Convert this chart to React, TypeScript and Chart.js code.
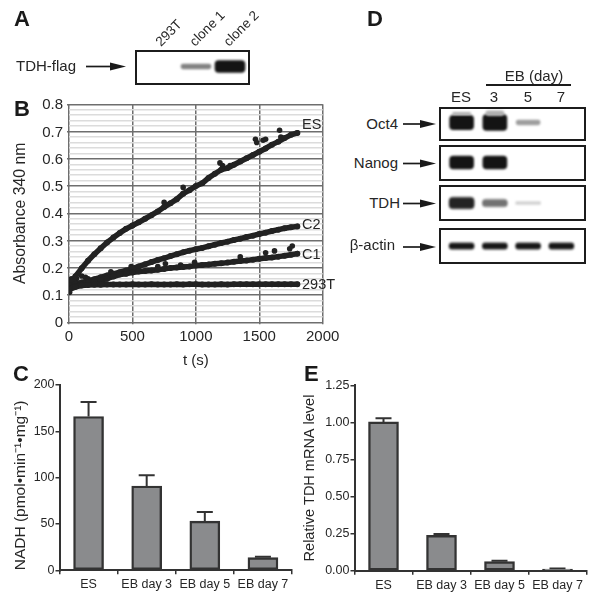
import React, { useEffect, useRef } from "react";
import Chart from "chart.js/auto";

const FONT = '"Liberation Sans", Arial, sans-serif';
const INK = "#262626";

// Panel B: absorbance time courses
const times = [0,50,100,150,200,250,300,350,400,450,500,550,600,650,700,750,800,850,900,950,1000,1050,1100,1150,1200,1250,1300,1350,1400,1450,1500,1550,1600,1650,1700,1750,1800];
const esValues = [.13,.168,.198,.226,.25,.272,.293,.311,.328,.343,.355,.367,.38,.393,.407,.423,.437,.452,.472,.485,.5,.51,.53,.545,.56,.566,.578,.59,.602,.614,.626,.638,.652,.663,.676,.688,.695];
const c2Values = [.135,.14,.146,.152,.158,.165,.172,.178,.184,.19,.197,.205,.213,.221,.229,.235,.243,.25,.257,.263,.268,.273,.279,.285,.291,.296,.302,.307,.313,.318,.324,.329,.335,.34,.345,.349,.352];
const c1Values = [.125,.133,.138,.145,.15,.155,.16,.168,.175,.178,.183,.186,.188,.19,.193,.196,.199,.201,.203,.205,.208,.21,.212,.215,.217,.219,.222,.225,.227,.23,.233,.236,.238,.241,.244,.248,.252];
const t293Values = [.12,.13,.135,.137,.138,.138,.139,.139,.139,.139,.14,.139,.139,.14,.139,.139,.139,.14,.139,.14,.14,.139,.139,.139,.14,.139,.14,.14,.14,.14,.14,.14,.14,.14,.14,.14,.14];
const esSpikeT = [750,900,1190,1210,1270,1470,1480,1530,1550,1660,1670];
const esSpikeV = [.44,.495,.585,.575,.575,.672,.66,.668,.672,.705,.68];
const c1SpikeT = [330,490,700,760,880,990,1350,1550,1620,1740,1760];
const c1SpikeV = [.185,.205,.205,.215,.21,.22,.24,.255,.262,.27,.28];
const startT = [5,10,20,30,60,100,130,150];
const startV = [.11,.155,.16,.15,.16,.17,.165,.16];

// Panels C and E
const barCategories = ["ES", "EB day 3", "EB day 5", "EB day 7"];
const nadhValues = [166, 91, 53, 13.7];
const nadhErrors = [15.7, 11.5, 10, 1];
const mrnaValues = [1.003, 0.238, 0.061, 0.011];
const mrnaErrors = [0.025, 0.009, 0.006, 0.003];

// Blots: band intensity per lane
const flagLanes = ["293T", "clone 1", "clone 2"];
const flagBands = [0, 0.4, 1];
const dayLanes = ["ES", "3", "5", "7"];
const oct4Bands = [0.9, 1, 0.31, 0];
const oct4Smear = [0.25, 0.5, 0, 0];
const nanogBands = [0.82, 0.82, 0, 0];
const tdhBands = [0.7, 0.45, 0.16, 0];
const actinBands = [1, 1, 1, 1];

const bandShade = (i: number) => {
  const g = Math.round(20 + 235 * (1 - Math.min(1, i / 0.75)));
  return `rgb(${g},${g},${g})`;
};

const blurPlugin = (radius: number) => ({
  id: "blur",
  beforeDatasetsDraw(c: any) { c.ctx.save(); c.ctx.filter = `blur(${radius}px)`; },
  afterDatasetsDraw(c: any) { c.ctx.filter = "none"; c.ctx.restore(); },
});

const errorPlugin = (errors: number[]) => ({
  id: "errors",
  beforeDatasetsDraw(c: any) {
    const { ctx } = c;
    const y = c.scales.y;
    const meta = c.getDatasetMeta(0);
    ctx.save();
    ctx.strokeStyle = "#333";
    ctx.lineWidth = 2;
    meta.data.forEach((el: any, i: number) => {
      const v = c.data.datasets[0].data[i] as number;
      const top = y.getPixelForValue(v + errors[i]);
      ctx.beginPath();
      ctx.moveTo(el.x, y.getPixelForValue(v));
      ctx.lineTo(el.x, top);
      ctx.moveTo(el.x - 8, top);
      ctx.lineTo(el.x + 8, top);
      ctx.stroke();
    });
    ctx.restore();
  },
});

// Pins the axis box so the plot area lands exactly where the layout padding puts it.
const pinWidth = (w: number) => (s: any) => { s.width = w; s.paddingTop = 0; s.paddingBottom = 0; };
const pinHeight = (h: number) => (s: any) => { s.height = h; s.paddingLeft = 0; s.paddingRight = 0; };

function blotConfig(lanes: string[], bands: number[], pxPerUnit: number, height: number, thickness: number, smear?: number[]) {
  const half = height / 2;
  const datasets: any[] = [];
  if (smear) {
    datasets.push({
      data: smear.map((s) => (s > 0 ? [9 - s * 4, 9 + s * 6] : null)),
      backgroundColor: smear.map(() => "#b0b0b0"),
      barThickness: thickness - 6,
      borderRadius: 3,
      borderSkipped: false,
    });
  }
  datasets.push({
    data: bands.map((b) => (b > 0 ? [(-b * pxPerUnit) / 2, (b * pxPerUnit) / 2] : null)),
    backgroundColor: bands.map(bandShade),
    barThickness: thickness,
    borderRadius: 4,
    borderSkipped: false,
  });
  return {
    type: "bar",
    data: { labels: lanes, datasets },
    options: {
      responsive: false,
      animation: false,
      layout: { padding: 0 },
      plugins: { legend: { display: false }, tooltip: { enabled: false } },
      datasets: { bar: { grouped: false } },
      scales: {
        x: { display: false },
        y: { display: false, min: -half, max: half },
      },
    },
    plugins: [blurPlugin(1.3)],
  };
}

function barConfig(values: number[], errors: number[], max: number, step: number, title: string, fmt: (v: number) => string, titleGap: number, titleSize: number, titleAlign: string, left: number, top: number, bottom: number, right: number) {
  return {
    type: "bar",
    data: {
      labels: barCategories,
      datasets: [{
        data: values,
        backgroundColor: "#8a8b8d",
        borderColor: "#333333",
        borderWidth: 2.4,
        borderSkipped: false,
        barThickness: 30,
      }],
    },
    options: {
      responsive: false,
      animation: false,
      layout: { padding: { top, right, left: 0, bottom: 0 } },
      plugins: { legend: { display: false }, tooltip: { enabled: false } },
      scales: {
        x: {
          afterFit: pinHeight(bottom),
          border: { color: "#333", width: 2 },
          grid: { drawOnChartArea: false, color: "#333", lineWidth: 1.5, tickLength: 4 },
          ticks: { color: INK, font: { family: FONT, size: 12.5 }, padding: 3, maxRotation: 0, autoSkip: false },
        },
        y: {
          min: 0,
          max,
          afterFit: pinWidth(left),
          border: { color: "#333", width: 2 },
          grid: { drawOnChartArea: false, color: "#333", lineWidth: 1.5, tickLength: 4 },
          ticks: { stepSize: step, color: INK, font: { family: FONT, size: 12.5 }, padding: 1, callback: (v: any) => fmt(Number(v)) },
          title: { display: true, text: title, align: titleAlign, color: INK, font: { family: FONT, size: titleSize }, padding: { top: titleGap, bottom: 0 } },
        },
      },
    },
    plugins: [errorPlugin(errors)],
  };
}

const pairs = (xs: number[], ys: number[]) => xs.map((x, i) => ({ x, y: ys[i] }));
const lineSet = (values: number[]) => ({
  data: pairs(times, values),
  showLine: true,
  borderColor: "#222",
  backgroundColor: "#222",
  borderWidth: 5.5,
  pointRadius: 3,
  pointBorderWidth: 0,
  borderCapStyle: "round",
  borderJoinStyle: "round",
});
const dotSet = (xs: number[], ys: number[]) => ({
  data: pairs(xs, ys),
  showLine: false,
  backgroundColor: "#222",
  pointRadius: 2.8,
  pointBorderWidth: 0,
});

const isTenth = (v: number) => Math.abs(v * 10 - Math.round(v * 10)) < 1e-6;

const kineticsConfig = {
  type: "scatter",
  data: {
    datasets: [
      lineSet(t293Values), lineSet(c1Values), lineSet(c2Values), lineSet(esValues),
      dotSet(esSpikeT, esSpikeV), dotSet(c1SpikeT, c1SpikeV), dotSet(startT, startV),
    ],
  },
  options: {
    responsive: false,
    animation: false,
    layout: { padding: { top: 9.3, right: 22.3, left: 0, bottom: 0 } },
    plugins: { legend: { display: false }, tooltip: { enabled: false } },
    scales: {
      x: {
        type: "linear",
        min: 0,
        max: 2000,
        afterFit: pinHeight(47.7),
        border: { display: false },
        grid: { color: "#6e6e6e", lineWidth: 1.5, tickLength: 2, tickColor: "#6e6e6e" },
        ticks: { stepSize: 500, color: INK, font: { family: FONT, size: 15 }, padding: 4, maxRotation: 0, callback: (v: any) => String(v) },
        title: { display: true, text: "t (s)", color: INK, font: { family: FONT, size: 15 }, padding: { top: 3, bottom: 0 } },
      },
      y: {
        min: 0,
        max: 0.8,
        afterFit: pinWidth(69),
        border: { display: false },
        grid: {
          tickLength: 2,
          tickColor: (c: any) => (isTenth(c.tick.value) ? "#6e6e6e" : "rgba(0,0,0,0)"),
          color: (c: any) => (isTenth(c.tick.value) ? "#6e6e6e" : "#dcdcdc"),
          lineWidth: 1.5,
        },
        ticks: {
          stepSize: 0.02,
          autoSkip: false,
          color: INK,
          font: { family: FONT, size: 15 },
          padding: 4,
          labelOffset: 1,
          callback: (v: any) => (isTenth(Number(v)) ? (Number(v) === 0 ? "0" : Number(v).toFixed(1)) : ""),
        },
        title: { display: true, text: "Absorbance 340 nm", color: INK, font: { family: FONT, size: 15.8 }, padding: { top: 11, bottom: 0 } },
      },
    },
  },
};

function Plot({ left, top, width, height, config }: any) {
  const ref = useRef<HTMLCanvasElement>(null);
  useEffect(() => {
    const chart = new Chart(ref.current as any, config);
    return () => chart.destroy();
  }, []);
  return <canvas ref={ref} width={width} height={height} style={{ position: "absolute", left, top, width, height, display: "block" }} />;
}

function Txt({ x, y, size = 15, bold = false, anchor = "left", children }: any) {
  const tx = anchor === "left" ? "0" : anchor === "right" ? "-100%" : "-50%";
  return (
    <div style={{ position: "absolute", left: x, top: y, transform: `translate(${tx},-50%)`, fontFamily: FONT, fontSize: size, fontWeight: bold ? 700 : 400, color: bold ? "#1a1a1a" : INK, whiteSpace: "nowrap", lineHeight: 1 }}>
      {children}
    </div>
  );
}

function Slanted({ x, y, children }: any) {
  return (
    <div style={{ position: "absolute", left: x, top: y - 14, height: 14, transform: "rotate(-45deg)", transformOrigin: "0 100%", fontFamily: FONT, fontSize: 13.5, color: INK, whiteSpace: "nowrap", lineHeight: "14px" }}>
      {children}
    </div>
  );
}

const Box = ({ x, y, w, h }: any) => (
  <div style={{ position: "absolute", left: x, top: y, width: w, height: h, boxSizing: "border-box", border: "2px solid #1c1c1c" }} />
);

const Arrow = ({ x1, x2, y }: any) => (
  <g>
    <line x1={x1} x2={x2 - 14} y1={y} y2={y} stroke="#1a1a1a" strokeWidth={1.7} />
    <polygon points={`${x2 - 16},${y - 4} ${x2},${y} ${x2 - 16},${y + 4}`} fill="#1a1a1a" />
  </g>
);

export default function App() {
  return (
    <div style={{ position: "absolute", left: 0, top: 0, width: 597, height: 600, overflow: "hidden", background: "#fff" }}>
      {/* Panel A */}
      <Plot left={144.5} top={51} width={102} height={31} config={blotConfig(flagLanes, flagBands, 12, 31, 30)} />
      <Box x={135} y={50} w={115} h={35} />
      <Slanted x={163} y={49}>293T</Slanted>
      <Slanted x={197} y={49}>clone 1</Slanted>
      <Slanted x={231} y={49}>clone 2</Slanted>
      <Txt x={16} y={65}>TDH-flag</Txt>

      {/* Panel B */}
      <Plot left={0} top={95} width={345} height={275} config={kineticsConfig} />
      <Txt x={302} y={124} size={14.5}>ES</Txt>
      <Txt x={302} y={224} size={14.5}>C2</Txt>
      <Txt x={302} y={254} size={14.5}>C1</Txt>
      <Txt x={302} y={284} size={14.5}>293T</Txt>

      {/* Panel C */}
      <Plot left={0} top={375} width={297} height={223} config={barConfig(nadhValues, nadhErrors, 200, 50, "NADH (pmol•min⁻¹•mg⁻¹)", (v) => String(v), 11, 15.5, "start", 59.5, 10, 27.7, 5)} />

      {/* Panel E */}
      <Plot left={297} top={375} width={300} height={223} config={barConfig(mrnaValues, mrnaErrors, 1.25, 0.25, "Relative TDH mRNA level", (v) => v.toFixed(2), 4, 14.5, "center", 57.5, 10.3, 27.3, 10.5)} />

      {/* Panel D */}
      <Plot left={444.5} top={107.9} width={133.2} height={29.6} config={blotConfig(dayLanes, oct4Bands, 16, 29.6, 24, oct4Smear)} />
      <Plot left={444.5} top={146.7} width={133.2} height={31.6} config={blotConfig(dayLanes, nanogBands, 16, 31.6, 24)} />
      <Plot left={444.5} top={187} width={133.2} height={31.7} config={blotConfig(dayLanes, tdhBands, 16, 31.7, 25)} />
      <Plot left={444.5} top={230.3} width={133.2} height={31.4} config={blotConfig(dayLanes, actinBands, 6, 31.4, 25)} />
      <Box x={438.5} y={106.5} w={147.5} h={34} />
      <Box x={438.5} y={144.5} w={147.5} h={36} />
      <Box x={438.5} y={185} w={147.5} h={36} />
      <Box x={438.5} y={228} w={147.5} h={36} />
      <Txt x={534} y={75} size={15} anchor="center">EB (day)</Txt>
      <div style={{ position: "absolute", left: 485.5, top: 83.5, width: 85, height: 2, background: "#1c1c1c" }} />
      <Txt x={461} y={96} anchor="center">ES</Txt>
      <Txt x={494} y={96} anchor="center">3</Txt>
      <Txt x={528} y={96} anchor="center">5</Txt>
      <Txt x={561} y={96} anchor="center">7</Txt>
      <Txt x={398} y={123} anchor="right">Oct4</Txt>
      <Txt x={398} y={162} anchor="right">Nanog</Txt>
      <Txt x={400} y={202} anchor="right">TDH</Txt>
      <Txt x={395} y={244} anchor="right">β-actin</Txt>

      {/* Arrows */}
      <svg width={597} height={600} style={{ position: "absolute", left: 0, top: 0 }}>
        <Arrow x1={86} x2={126} y={66.5} />
        <Arrow x1={403} x2={436} y={124} />
        <Arrow x1={403} x2={436} y={163.5} />
        <Arrow x1={403} x2={436} y={203.5} />
        <Arrow x1={403} x2={436} y={247} />
      </svg>

      {/* Panel letters */}
      <Txt x={14} y={18.5} size={22} bold>A</Txt>
      <Txt x={14} y={109} size={22} bold>B</Txt>
      <Txt x={13} y={373.5} size={22} bold>C</Txt>
      <Txt x={367} y={18.5} size={22} bold>D</Txt>
      <Txt x={304} y={373.5} size={22} bold>E</Txt>
    </div>
  );
}
